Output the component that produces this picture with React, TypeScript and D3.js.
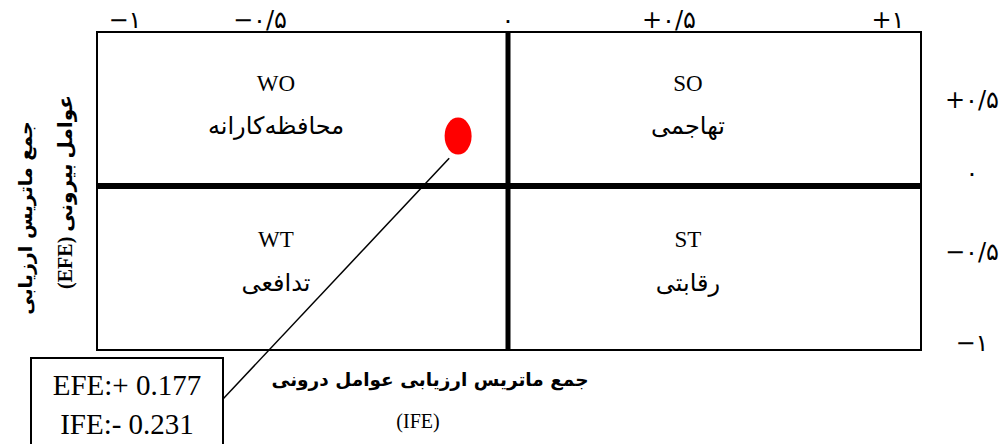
import React from 'react';
import * as d3 from 'd3';

// axis ticks (Persian digits as printed in the figure)
const xTickValues = [-1, -0.5, 0, 0.5, 1];
const xTickLabels = ['−۱', '−۰/۵', '۰', '+۰/۵', '+۱'];
const yTickValues = [0.5, 0, -0.5, -1];
const yTickLabels = ['+۰/۵', '۰', '−۰/۵', '−۱'];

// quadrants
const quadCodes = ['WO', 'SO', 'WT', 'ST'];
const quadNames = ['محافظه‌کارانه', 'تهاجمی', 'تدافعی', 'رقابتی'];
const quadSide = [
  { h: 'left', v: 'top' },
  { h: 'right', v: 'top' },
  { h: 'left', v: 'bottom' },
  { h: 'right', v: 'bottom' },
];

// company position
const efeScore = 0.177;
const ifeScore = -0.231;

const xTitle = 'جمع ماتریس ارزیابی عوامل درونی';
const xTitleSub = '(IFE)';
const yTitle1 = 'جمع ماتریس ارزیابی';
const yTitle2 = 'عوامل بیرونی (EFE)';

const W = 1003;
const H = 444;
const box = { left: 97, right: 921, top: 32, bottom: 350 };
const cross = { x: 508, y: 186 };
const unitX = 216;
const unitY = 282;

const serif = '"Liberation Serif", "DejaVu Sans", serif';
const persian = '"DejaVu Sans", sans-serif';

export default function App() {
  // tick labels sit where the figure prints them (uneven spacing)
  const xTick = d3.scaleLinear().domain(xTickValues).range([125, 260, 508, 669, 888]);
  const yTick = d3.scaleLinear().domain(yTickValues).range([100, 173, 252, 343]);

  // plot scales centred on the cross lines
  const x = d3.scaleLinear().domain([-1, 1]).range([cross.x - unitX, cross.x + unitX]);
  const y = d3.scaleLinear().domain([-1, 1]).range([cross.y + unitY, cross.y - unitY]);

  const px = x(ifeScore);
  const py = y(efeScore);
  const rx = 13.5;
  const ry = 18.5;

  const note = { left: 31, right: 223, top: 358, anchorY: 399 };
  const leader = d3.line()([
    [note.right, note.anchorY],
    [px - rx * 0.66, py + ry * 1.2],
  ]);

  const labelX = { left: 276, right: 688 };
  const codeY = { top: 91, bottom: 247 };
  const nameY = { top: 134, bottom: 291 };

  return (
    <svg width={W} height={H} style={{ position: 'absolute', left: 0, top: 0, background: '#fff' }}>
      <rect x={0} y={0} width={W} height={H} fill="#fff" />

      <rect
        x={box.left}
        y={box.top}
        width={box.right - box.left}
        height={box.bottom - box.top}
        fill="none"
        stroke="#000"
        strokeWidth={2}
      />
      <line x1={x(0)} x2={x(0)} y1={box.top} y2={box.bottom} stroke="#000" strokeWidth={5} />
      <line x1={box.left} x2={box.right} y1={y(0)} y2={y(0)} stroke="#000" strokeWidth={6} />

      {xTickValues.map((v, i) => (
        <text
          key={'xt' + i}
          x={xTick(v)}
          y={28}
          textAnchor="middle"
          fontFamily={persian}
          fontSize={24}
          direction="ltr"
        >
          {xTickLabels[i]}
        </text>
      ))}
      {yTickValues.map((v, i) => (
        <text
          key={'yt' + i}
          x={972}
          y={yTick(v)}
          textAnchor="middle"
          dominantBaseline="central"
          fontFamily={persian}
          fontSize={24}
          direction="ltr"
        >
          {yTickLabels[i]}
        </text>
      ))}

      {quadCodes.map((c, i) => (
        <g key={c}>
          <text
            x={labelX[quadSide[i].h]}
            y={codeY[quadSide[i].v]}
            textAnchor="middle"
            fontFamily={serif}
            fontSize={23}
          >
            {c}
          </text>
          <text
            x={labelX[quadSide[i].h]}
            y={nameY[quadSide[i].v]}
            textAnchor="middle"
            fontFamily={persian}
            fontSize={24}
            direction="rtl"
          >
            {quadNames[i]}
          </text>
        </g>
      ))}

      <ellipse cx={px} cy={py} rx={rx} ry={ry} fill="#ff0000" />
      <path d={leader} stroke="#000" strokeWidth={1.5} fill="none" />

      <rect
        x={note.left}
        y={note.top}
        width={note.right - note.left}
        height={H + 10 - note.top}
        fill="#fff"
        stroke="#000"
        strokeWidth={2}
      />
      <text x={(note.left + note.right) / 2} y={395} textAnchor="middle" fontFamily={serif} fontSize={29}>
        {`EFE:+ ${efeScore}`}
      </text>
      <text x={(note.left + note.right) / 2} y={434} textAnchor="middle" fontFamily={serif} fontSize={29}>
        {`IFE:- ${Math.abs(ifeScore)}`}
      </text>

      <text x={430} y={386} textAnchor="middle" fontFamily={persian} fontWeight="bold" fontSize={18.5} direction="rtl">
        {xTitle}
      </text>
      <text x={418} y={428} textAnchor="middle" fontFamily={serif} fontSize={20}>
        {xTitleSub}
      </text>

      <text
        transform="translate(25,218) rotate(-90)"
        textAnchor="middle"
        dominantBaseline="central"
        fontFamily={persian}
        fontWeight="bold"
        fontSize={19}
        direction="rtl"
      >
        {yTitle1}
      </text>
      <text
        transform="translate(65,192) rotate(-90)"
        textAnchor="middle"
        dominantBaseline="central"
        fontFamily={serif}
        fontWeight="bold"
        fontSize={20}
        direction="rtl"
      >
        {yTitle2}
      </text>
    </svg>
  );
}
